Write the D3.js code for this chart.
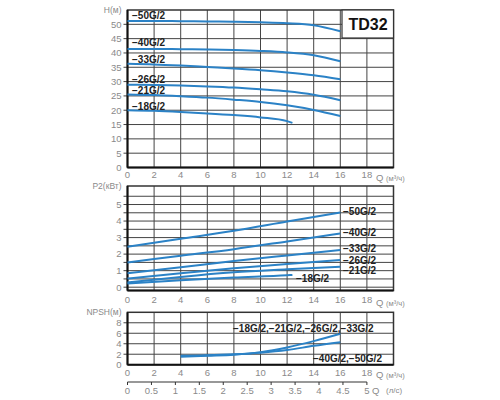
<!DOCTYPE html>
<html><head><meta charset="utf-8">
<script src="https://cdn.jsdelivr.net/npm/d3@7"></script>
<style>body{margin:0;background:#fff}svg{display:block}text{font-family:"Liberation Sans",Arial,sans-serif}</style>
</head><body><svg id="c" width="500" height="400"></svg>
<script>
// ---- data ----
const qTicks = [0,2,4,6,8,10,12,14,16,18];
const lsTicks = [0,0.5,1,1.5,2,2.5,3,3.5,4,4.5,5];
const hTicks = [0,5,10,15,20,25,30,35,40,45,50];
const pTicks = [0,1,2,3,4,5];
const nTicks = [0,2,4,6,8];

const qH = [0,2,4,6,8,10,12,14,16];
const h50 = [51.2,51.2,51.1,51.0,50.9,50.7,50.4,49.7,47.6];
const h40 = [41.4,41.4,41.3,41.2,41.0,40.7,40.2,39.2,37.1];
const h33 = [36.2,36.0,35.6,35.1,34.6,34.0,33.2,32.2,30.8];
const h26 = [28.9,28.8,28.6,28.3,27.9,27.3,26.6,25.4,23.5];
const h21 = [25.5,25.3,24.9,24.4,23.7,22.9,21.7,20.1,18.0];
const q18 = [0,2,4,6,8,10,12,12.4];
const h18 = [20.0,19.8,19.4,18.9,18.3,17.5,16.2,15.6];

const qP = [0,4,8,12,16];
const p50 = [2.45,2.93,3.41,3.97,4.52];
const p40 = [1.50,1.90,2.30,2.77,3.25];
const p33 = [0.84,1.20,1.58,1.92,2.25];
const p26 = [0.52,0.85,1.15,1.40,1.64];
const p21 = [0.28,0.62,0.90,1.08,1.24];
const qP18 = [0,4,8,12,12.4];
const p18 = [0.22,0.42,0.58,0.72,0.74];

const qN = [4,6,8,10,12,14,16];
const nA = [1.5,1.7,1.9,2.4,3.3,4.5,5.9];
const nB = [1.7,1.8,2.0,2.3,2.8,3.6,4.3];

const hNames = ["−50G/2","−40G/2","−33G/2","−26G/2","−21G/2","−18G/2"];
const nNames = ["−18G/2,−21G/2,−26G/2,−33G/2","−40G/2,−50G/2"];

// ---- drawing ----
const svg = d3.select("#c");
const blue = "#2b82c6";
const grey = "#8a8a8a";
const x = d3.scaleLinear().domain([0,20]).range([127.5,393.5]);
const xl = d3.scaleLinear().domain([0,20/3.6]).range([127.5,393.5]);

function panel(y, yGrid, yLabels, title, titleY, xLabY){
  const g = svg.append("g");
  const [y0,y1] = y.range();
  g.selectAll(null).data(d3.range(2,20,2)).join("line")
    .attr("x1",d=>x(d)).attr("x2",d=>x(d)).attr("y1",y1).attr("y2",y0)
    .attr("stroke","#444").attr("stroke-width",1);
  g.selectAll(null).data(yGrid).join("line")
    .attr("x1",x(0)-4).attr("x2",x(20)).attr("y1",d=>y(d)).attr("y2",d=>y(d))
    .attr("stroke","#444").attr("stroke-width",1);
  g.append("rect").attr("x",x(0)).attr("y",y1).attr("width",x(20)-x(0)).attr("height",y0-y1)
    .attr("fill","none").attr("stroke","#333").attr("stroke-width",1.5);
  g.append("line").attr("x1",x(0)).attr("x2",x(20)).attr("y1",y0).attr("y2",y0).attr("stroke","#111").attr("stroke-width",2);
  g.append("line").attr("x1",x(0)).attr("x2",x(0)).attr("y1",y1).attr("y2",y0).attr("stroke","#111").attr("stroke-width",2);
  g.selectAll(null).data(yLabels).join("text")
    .attr("x",x(0)-6).attr("y",d=>y(d)).attr("dy","0.35em").attr("text-anchor","end")
    .attr("font-size",9.5).attr("fill",grey).text(d=>d);
  g.append("text").attr("x",x(0)-6).attr("y",titleY).attr("dy","0.35em").attr("text-anchor","end")
    .attr("font-size",8.5).attr("fill",grey).text(title);
  g.selectAll(null).data(qTicks).join("text")
    .attr("x",d=>x(d)).attr("y",xLabY).attr("dy","0.35em").attr("text-anchor","middle")
    .attr("font-size",9.5).attr("fill",grey).text(d=>d);
  const t = g.append("text").attr("x",376).attr("y",xLabY).attr("dy","0.35em").attr("fill",grey);
  t.append("tspan").attr("font-size",9.5).text("Q ");
  t.append("tspan").attr("font-size",7.5).text("(м³/ч)");
  return g;
}
function curve(g, y, qs, vs){
  g.append("path").datum(qs.map((q,i)=>[q,vs[i]]))
    .attr("d",d3.line().x(d=>x(d[0])).y(d=>y(d[1])).curve(d3.curveMonotoneX))
    .attr("fill","none").attr("stroke",blue).attr("stroke-width",2);
}
function lab(g, px, py, s){
  g.append("text").attr("x",px).attr("y",py).attr("dy","0.35em").attr("font-size",10)
    .attr("font-weight","bold").attr("fill","#222").text(s);
}

// top panel
const yH = d3.scaleLinear().domain([0,55]).range([167.5,10]);
const gH = panel(yH, d3.range(5,55,5), hTicks, "H(м)", 10, 175);
[h50,h40,h33,h26,h21].forEach(v=>curve(gH,yH,qH,v));
curve(gH,yH,q18,h18);
[15.5,42.5,59.5,79.5,90,106].forEach((py,i)=>lab(gH,132,py,hNames[i]));
gH.append("rect").attr("x",342).attr("y",10).attr("width",51.5).attr("height",28)
  .attr("fill","#fff").attr("stroke","#333").attr("stroke-width",1.2);
gH.append("text").attr("x",368).attr("y",24.5).attr("dy","0.35em").attr("text-anchor","middle")
  .attr("font-size",16).attr("font-weight","bold").attr("fill","#111").text("TD32");

// middle panel
const yP = d3.scaleLinear().domain([-0.2,6.12]).range([290.5,186]);
const gP = panel(yP, d3.range(0,6,0.5), pTicks, "P2(кВт)", 186, 300);
[p50,p40,p33,p26,p21].forEach(v=>curve(gP,yP,qP,v));
curve(gP,yP,qP18,p18);
[[343,211.7],[343,232.3],[343,248.3],[343,260],[343,270],[296,278.7]]
  .forEach((p,i)=>lab(gP,p[0],p[1],hNames[i]));

// bottom panel
const yN = d3.scaleLinear().domain([0,10]).range([364.7,312.3]);
const gN = panel(yN, d3.range(2,10,2), nTicks, "NPSH(м)", 312.5, 372.7);
curve(gN,yN,qN,nA);
curve(gN,yN,qN,nB);
lab(gN,233,328,nNames[0]);
lab(gN,313,358,nNames[1]);

// l/s axis
const la = svg.append("g");
la.append("line").attr("x1",xl(0)).attr("x2",xl(5)).attr("y1",382).attr("y2",382).attr("stroke","#333").attr("stroke-width",1.2);
la.selectAll(null).data(lsTicks).join("line")
  .attr("x1",d=>xl(d)).attr("x2",d=>xl(d)).attr("y1",382).attr("y2",385).attr("stroke","#333");
la.selectAll(null).data(lsTicks).join("text")
  .attr("x",d=>xl(d)).attr("y",390.5).attr("dy","0.35em").attr("text-anchor","middle")
  .attr("font-size",9.5).attr("fill",grey).text(d=>d);
la.append("text").attr("x",xl(5)+5).attr("y",390.5).attr("dy","0.35em").attr("font-size",9.5).attr("fill",grey).text("Q");
la.append("text").attr("x",386).attr("y",390.5).attr("dy","0.35em").attr("font-size",8).attr("fill",grey).text("(л/с)");
</script></body></html>
